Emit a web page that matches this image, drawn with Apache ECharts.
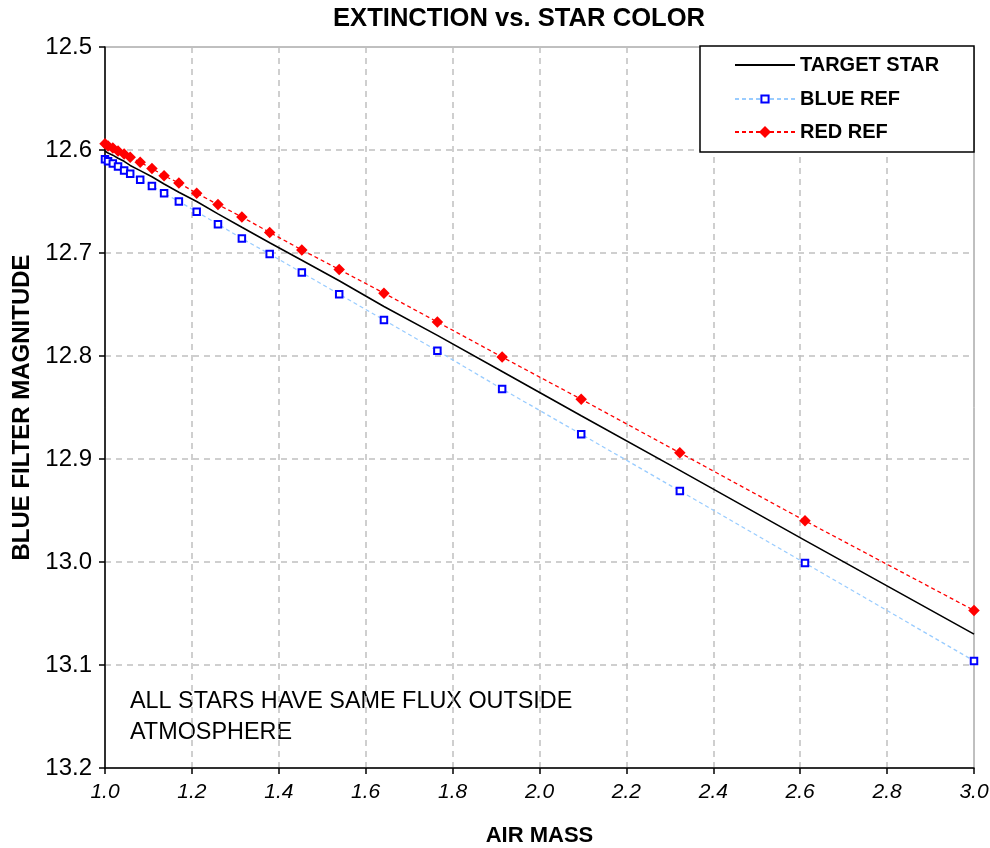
<!DOCTYPE html>
<html>
<head>
<meta charset="utf-8">
<script src="https://cdn.jsdelivr.net/npm/echarts@6/dist/echarts.min.js"></script>
<style>
html,body{margin:0;padding:0;background:#fff;}
#chart{width:990px;height:848px;}
</style>
</head>
<body>
<div id="chart"></div>
<script>
// Air mass values (x) shared by all series
const airMass = [1.000, 1.007, 1.018, 1.030, 1.044, 1.058, 1.081, 1.108, 1.136, 1.170, 1.211, 1.260, 1.315, 1.379, 1.453, 1.539, 1.642, 1.765, 1.914, 2.096, 2.323, 2.611, 3.000];
// Blue filter magnitudes
const targetMag = [12.601, 12.603, 12.605, 12.608, 12.611, 12.615, 12.620, 12.626, 12.633, 12.641, 12.650, 12.662, 12.675, 12.690, 12.707, 12.727, 12.752, 12.780, 12.815, 12.858, 12.911, 12.979, 13.070];
const blueRefMag = [12.609, 12.611, 12.613, 12.616, 12.620, 12.623, 12.629, 12.635, 12.642, 12.650, 12.660, 12.672, 12.686, 12.701, 12.719, 12.740, 12.765, 12.795, 12.832, 12.876, 12.931, 13.001, 13.096];
const redRefMag = [12.594, 12.596, 12.598, 12.601, 12.604, 12.607, 12.612, 12.618, 12.625, 12.632, 12.642, 12.653, 12.665, 12.680, 12.697, 12.716, 12.739, 12.767, 12.801, 12.842, 12.894, 12.960, 13.047];
const seriesNames = ['TARGET STAR', 'BLUE REF', 'RED REF'];
const titleText = 'EXTINCTION vs. STAR COLOR';
const xAxisName = 'AIR MASS';
const yAxisName = 'BLUE FILTER MAGNITUDE';
const noteText = 'ALL STARS HAVE SAME FLUX OUTSIDE\nATMOSPHERE';

const pairs = (ys) => airMass.map((x, i) => [x, ys[i]]);
const FONT = '"Liberation Sans", Arial, sans-serif';

const legendText = {fontFamily: FONT, fontWeight: 'bold', fontSize: 20, color: '#000'};
const rowCenters = [64, 98, 131];
const rowIconH = [14, 9, 15];
const legends = seriesNames.map((n, i) => ({
  data: i === 0 ? [{name: n, itemStyle: {opacity: 0}}] : [n],
  orient: 'vertical', left: 734, top: rowCenters[i] - 9, padding: 0,
  itemWidth: 60, itemHeight: rowIconH[i], itemGap: 0,
  textStyle: legendText, z: 6
}));

const chart = echarts.init(document.getElementById('chart'), null, {renderer: 'canvas'});
chart.setOption({
  backgroundColor: '#ffffff',
  animation: false,
  grid: {left: 105, right: 16, top: 47, bottom: 80, outerBoundsMode: 'none', containLabel: false, show: true, borderColor: '#808080', borderWidth: 1, backgroundColor: 'transparent'},
  graphic: [
    {type: 'text', left: 333, top: 6, style: {text: titleText, font: 'bold 25.6px ' + FONT, fill: '#000'}},
    {type: 'text', left: 130, top: 686, style: {text: noteText, font: '23.4px ' + FONT, fill: '#000', lineHeight: 31}},
    {type: 'rect', z: 5, shape: {x: 700, y: 46, width: 274, height: 106}, style: {fill: '#fff', stroke: '#000', lineWidth: 1.5}}
  ],
  legend: legends,
  xAxis: {
    type: 'value', min: 1.0, max: 3.0, interval: 0.2,
    name: xAxisName, nameLocation: 'middle', nameGap: 57,
    nameTextStyle: {fontFamily: FONT, fontWeight: 'bold', fontSize: 22, color: '#000'},
    axisLine: {show: true, lineStyle: {color: '#000', width: 1.5}},
    axisTick: {show: true, length: 6, lineStyle: {color: '#000', width: 1.5}},
    axisLabel: {fontFamily: FONT, fontStyle: 'italic', fontSize: 21, color: '#000', margin: 14, formatter: v => v.toFixed(1)},
    splitLine: {show: true, lineStyle: {color: '#c0c0c0', type: [6, 5], width: 1.5}}
  },
  yAxis: {
    type: 'value', inverse: true, min: 12.5, max: 13.2, interval: 0.1,
    name: yAxisName, nameLocation: 'middle', nameGap: 69,
    nameTextStyle: {fontFamily: FONT, fontWeight: 'bold', fontSize: 24, color: '#000'},
    axisLine: {show: true, lineStyle: {color: '#000', width: 1.5}},
    axisTick: {show: true, length: 6, lineStyle: {color: '#000', width: 1.5}},
    axisLabel: {fontFamily: FONT, fontSize: 24, color: '#000', margin: 13, formatter: v => v.toFixed(1)},
    splitLine: {show: true, lineStyle: {color: '#c0c0c0', type: [6, 5], width: 1.5}}
  },
  series: [
    {
      name: seriesNames[0], type: 'line', data: pairs(targetMag),
      symbol: 'none', showSymbol: false,
      itemStyle: {color: '#000'},
      lineStyle: {color: '#000', width: 1.6}
    },
    {
      name: seriesNames[1], type: 'line', data: pairs(blueRefMag),
      symbol: 'emptyRect', symbolSize: 6.5,
      itemStyle: {color: '#0000ff', borderWidth: 1.5},
      lineStyle: {color: '#99ccff', width: 1.3, type: [4, 3]}
    },
    {
      name: seriesNames[2], type: 'line', data: pairs(redRefMag),
      symbol: 'diamond', symbolSize: 11.5,
      itemStyle: {color: '#ff0000'},
      lineStyle: {color: '#ff0000', width: 1.3, type: [4, 3]}
    }
  ]
});
</script>
</body>
</html>
